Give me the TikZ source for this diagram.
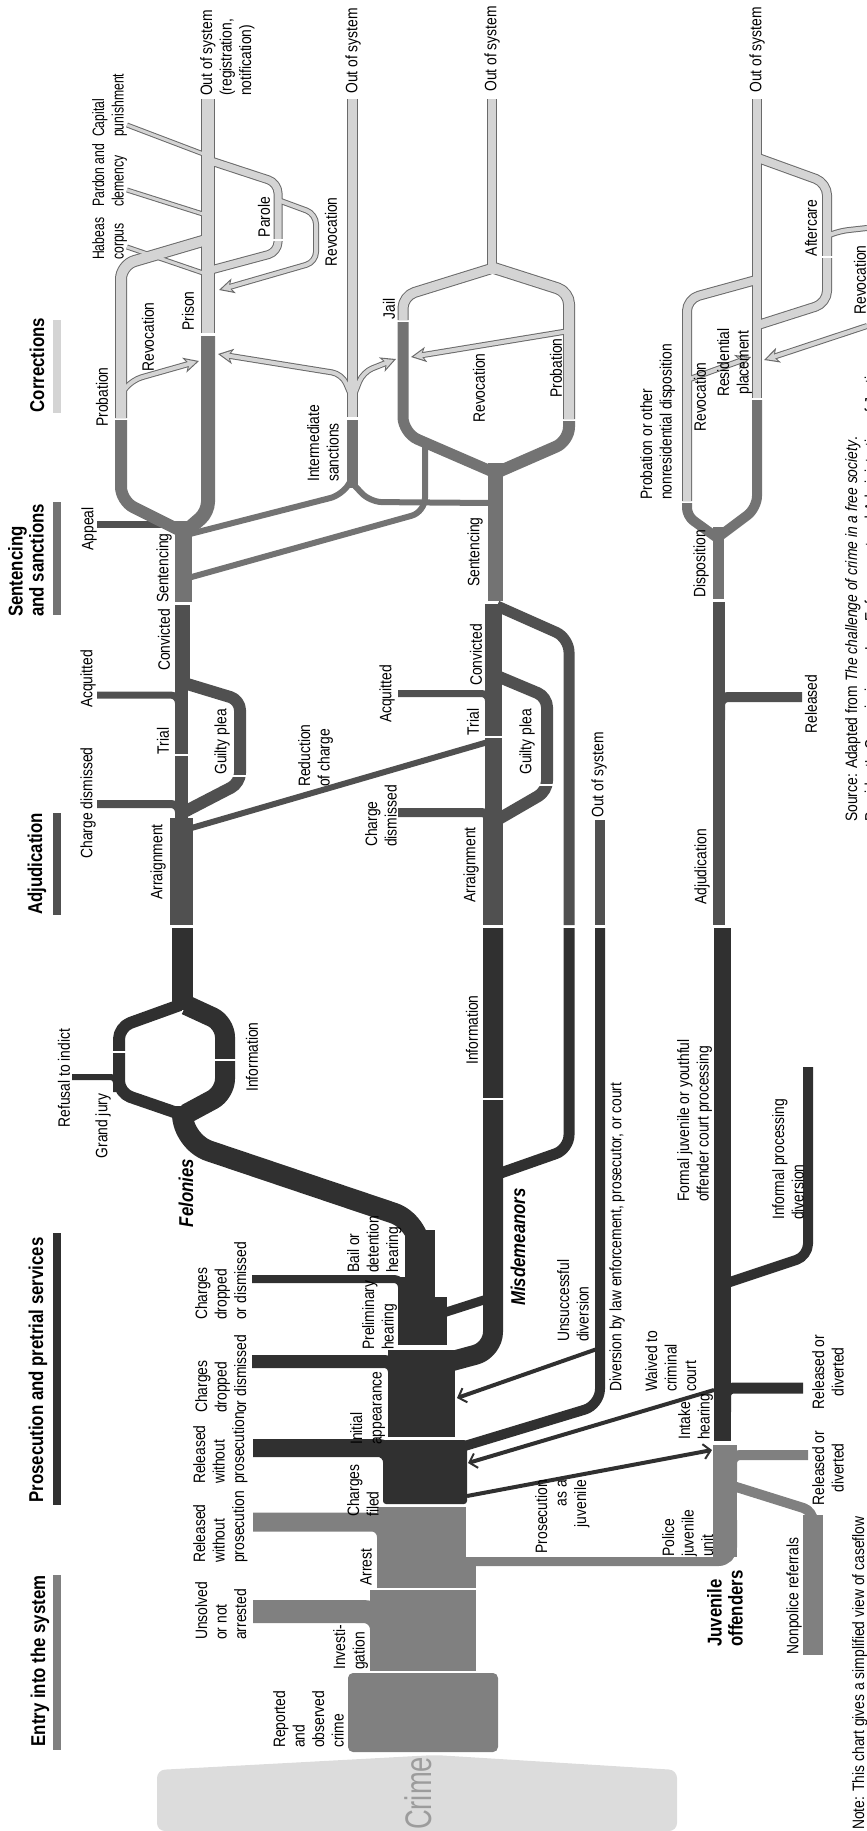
\documentclass[tikz,border=0pt]{standalone}
\usepackage{fontspec}
\setmainfont{Liberation Sans}
\usetikzlibrary{arrows.meta}

\definecolor{crimebg}{HTML}{DCDCDC}
\definecolor{crimetx}{HTML}{9C9C9C}
\definecolor{entry}{HTML}{808080}
\definecolor{prosec}{HTML}{303030}
\definecolor{adjud}{HTML}{505050}
\definecolor{sentc}{HTML}{737373}
\definecolor{ltfill}{HTML}{D4D4D4}
\definecolor{ltedge}{HTML}{6A6A6A}

\newcommand\corrbands{%
  \draw[lt=10pt, rounded corners=14pt] (121,418) -- (121,265) -- (206,240);
  \draw[lt=12pt] (208,333) -- (208,99);
  \draw[lt=7pt, rounded corners=10pt] (211,161) -- (278,183) -- (278,252) -- (211,270);
  \draw[lt=4pt, ltarr, rounded corners=10pt] (278,200) -- (316,214) -- (316,262) -- (219,290);
  \draw[lt=3pt] (127,247) -- (206,274);
  \draw[lt=3pt] (127,190) -- (206,215);
  \draw[lt=3pt] (127,125) -- (206,155);
  \draw[lt=4pt, ltarr, rounded corners=10pt] (121,394) -- (132,380) -- (199,361);
  \draw[lt=9pt] (352.5,417) -- (352.5,99);
  \draw[lt=4pt, ltarr, rounded corners=10pt] (351,395) -- (342,374) -- (218,354);
  \draw[lt=4pt, ltarr, rounded corners=10pt] (354,395) -- (363,372) -- (396,359);
  \draw[lt=9pt, rounded corners=12pt] (403,320) -- (403,296) -- (490,269);
  \draw[lt=8pt] (492,99) -- (492,274);
  \draw[lt=10pt, rounded corners=12pt] (494,268) -- (569,292) -- (569,419);
  \draw[lt=4pt, ltarr] (569,331) -- (411,357);
  \draw[lt=8pt] (757,99) -- (757,398);
  \draw[lt=8pt, rounded corners=12pt] (687,501) -- (687,299) -- (756,280);
  \draw[lt=4pt, ltarr] (687,380) -- (751,357);
  \draw[lt=8pt, rounded corners=12pt] (758,158) -- (827,183) -- (827,303) -- (758,325);
  \draw[lt=4pt, rounded corners=8pt] (827,236) -- (840,231) -- (867,228);
  \draw[lt=4pt, ltarr] (867,326) -- (764,360);
}

\begin{document}
\begin{tikzpicture}[x=1pt, y=-1pt,
    band/.style={line cap=butt, line join=round},
    lbl/.style={rotate=90, xscale=.84, inner sep=0pt, align=left,
                font=\fontsize{16.5}{19.5}\selectfont},
    tight/.style={lbl, xscale=.88},
    head/.style={lbl, font=\fontsize{20}{21}\selectfont\bfseries},
    kind/.style={lbl, font=\fontsize{20}{21}\selectfont\bfseries\itshape},
    darrow/.style={prosec, line width=4pt,
                   -{Straight Barb[length=7pt,width=15pt,line width=2pt]}},
    gap/.style={white, line width=2pt}]
    \useasboundingbox (0,0) rectangle (433.5,915.5);
    \begin{scope}[transform canvas={scale=.5}]
    \clip (0,0) rectangle (867,1831);

    \fill[crimebg, rounded corners=8pt] (157,1831) -- (157,1770) -- (435,1755) -- (677,1770) -- (677,1831) -- cycle;
    \node[lbl, xscale=.88, font=\fontsize{37}{40}\selectfont, text=crimetx, anchor=base west] (crime) at (431,1830) {Crime};

    \fill[entry] (53,1575) rectangle (61,1750);
    \fill[prosec] (53,1233) rectangle (61,1505);
    \fill[adjud] (53,813) rectangle (61,915);
    \fill[sentc] (53,502) rectangle (61,615);
    \fill[ltfill] (53,320) rectangle (61,413);

    \fill[entry, rounded corners=5pt] (348,1673) rectangle (498,1752);
    \fill[entry] (370,1590) rectangle (476,1671);
    \draw[entry, band, line width=23pt, rounded corners=18pt] (381.5,1660) -- (381.5,1611.5) -- (253,1611.5);
    \fill[entry] (377,1507) rectangle (466,1590);
    \fill[entry] (466,1566) rectangle (476,1590);
    \draw[entry, band, line width=19pt, rounded corners=15pt] (386.5,1550) -- (386.5,1522) -- (253,1522);
    \draw[entry, band, line width=9pt, rounded corners=14pt] (462,1561.5) -- (732.5,1561.5) -- (732.5,1520);
    \fill[entry] (713,1445) rectangle (737,1557);
    \draw[entry, band, line width=10pt, rounded corners=8pt] (732,1480) -- (732,1455) -- (808,1455);
    \draw[entry, band, line width=10pt, rounded corners=10pt] (730,1485) -- (813,1511) -- (813,1540);
    \fill[entry] (803,1515) rectangle (823,1655);

    \fill[prosec, rounded corners=3pt] (383,1440) rectangle (467,1504);
    \draw[prosec, band, line width=18pt, rounded corners=14pt] (392,1490) -- (392,1448) -- (253,1448);
    \fill[prosec] (388,1350) rectangle (455,1437);
    \draw[prosec, band, line width=13pt, rounded corners=10pt] (394.5,1400) -- (394.5,1361.5) -- (252,1361.5);
    \fill[prosec] (398,1297) rectangle (447,1345);
    \fill[prosec] (398,1277) rectangle (435,1297);
    \draw[prosec, band, line width=8pt, rounded corners=8pt] (402,1310) -- (402,1279) -- (252,1279);
    \fill[prosec] (405,1230) rectangle (435,1280);
    \draw[prosec, band, line width=21pt, rounded corners=28pt] (420,1270) -- (420,1222) -- (182.5,1142) -- (182.5,1106);
    \draw[prosec, band, line width=20pt, rounded corners=18pt] (445,1363) -- (493,1350) -- (493,928);
    \draw[prosec, band, line width=9pt] (440,1314) -- (490,1298);
    \draw[prosec, band, line width=10pt, rounded corners=16pt] (458,1448) -- (600,1405) -- (600,928);
    \draw[prosec, band, line width=11pt, rounded corners=14pt] (495,1175) -- (569,1149) -- (569,928);
    \fill[prosec] (172,928) rectangle (193,1010);
    \draw[prosec, band, line width=12pt, rounded corners=12pt] (180,1114) -- (119,1093) -- (119,1027) -- (180,1005);
    \draw[prosec, band, line width=20pt, rounded corners=14pt] (186,1114) -- (225,1093) -- (225,1023) -- (186,1005);
    \draw[prosec, band, line width=6pt, rounded corners=5pt] (116,1092) -- (116,1077) -- (72,1077);
    \fill[prosec] (714,928) rectangle (731,1441);
    \draw[prosec, band, line width=11pt, rounded corners=8pt] (725.5,1412) -- (725.5,1388) -- (803,1388);
    \draw[prosec, band, line width=10pt, rounded corners=12pt] (724,1284) -- (808,1256) -- (808,1067);

    \fill[adjud] (170,818) rectangle (193,925);
    \fill[adjud] (175,687) rectangle (188,820);
    \fill[adjud] (175,605) rectangle (190,687);
    \draw[adjud, band, line width=8pt, rounded corners=8pt] (179,830) -- (179,804) -- (97,804);
    \draw[adjud, band, line width=7pt, rounded corners=8pt] (178.5,715) -- (178.5,695) -- (97,695);
    \draw[adjud, band, line width=12pt, rounded corners=10pt] (184,812) -- (240,783) -- (240,700) -- (184,683);
    \draw[adjud, band, line width=6pt] (188,829) -- (488,742);
    \fill[adjud] (483,815) rectangle (503,925);
    \fill[adjud] (485,604) rectangle (502,815);
    \draw[adjud, band, line width=9pt, rounded corners=8pt] (489.5,835) -- (489.5,812.5) -- (398,812.5);
    \draw[adjud, band, line width=7pt, rounded corners=7pt] (488.5,712) -- (488.5,693.5) -- (398,693.5);
    \draw[adjud, band, line width=12pt, rounded corners=10pt] (497,820) -- (547,791) -- (547,697) -- (497,676);
    \draw[adjud, band, line width=11pt, rounded corners=14pt] (569,925) -- (569,638) -- (497,606);
    \fill[adjud] (595,820) rectangle (605,925);
    \fill[adjud] (713,602) rectangle (725,925);
    \draw[adjud, band, line width=10pt, rounded corners=8pt] (720,720) -- (720,697) -- (802,697);
    \draw[adjud, band, line width=7pt] (176,524) -- (97,524);

    \fill[sentc] (175,521) rectangle (192,602);
    \fill[sentc] (488,463) rectangle (503,601);
    \fill[sentc] (713,527) rectangle (724,599);
    \draw[sentc, band, line width=12pt, rounded corners=14pt] (183,532) -- (121,501) -- (121,420);
    \draw[sentc, band, line width=14pt, rounded corners=10pt] (185,532) -- (208,512) -- (208,336);
    \draw[sentc, band, line width=6pt, rounded corners=12pt] (186,535) -- (342,495) -- (352.5,478);
    \draw[sentc, band, line width=6pt, rounded corners=14pt] (188,578) -- (425,512) -- (425,438);
    \draw[sentc, band, line width=6pt, rounded corners=12pt] (491,503) -- (370,502) -- (355,486);
    \fill[sentc] (347,420) rectangle (358,488);
    \draw[sentc, band, line width=11pt, rounded corners=16pt] (493,472) -- (403,433) -- (403,322);
    \draw[sentc, band, line width=12pt, rounded corners=14pt] (498,472) -- (569,441) -- (569,421);
    \draw[sentc, band, line width=10pt, rounded corners=8pt] (716,537) -- (687,516) -- (687,503);
    \draw[sentc, band, line width=10pt, rounded corners=12pt] (721,535) -- (757,508) -- (757,400);

    \begin{scope}[lt/.style={band, draw=ltedge, line width=#1+2pt},
                  ltarr/.style={-{Stealth[length=15pt,width=15pt,inset=4pt]}}]
        \corrbands
    \end{scope}
    \begin{scope}[lt/.style={band, draw=ltfill, line width=#1},
                  ltarr/.style={shorten >=2.5pt, -{Stealth[length=10pt,width=10pt,inset=2.5pt]}}]
        \corrbands
    \end{scope}

    \draw[gap] (368,1589) -- (478,1589);
    \draw[gap] (111,1052) -- (127,1052);
    \draw[gap] (213,1060) -- (237,1060);
    \draw[gap] (481,1099) -- (505,1099);
    \draw[gap] (173,755) -- (190,755);
    \draw[gap] (483,737) -- (504,737);
    \draw[gap] (232,776) -- (248,776);
    \draw[gap] (539,785) -- (555,785);
    \draw[gap] (271,240) -- (285,240);
    \draw[gap] (820,257) -- (834,257);

    \coordinate (dvout) at (597,1349);
    \coordinate (iaback) at (457,1398);
    \coordinate (jvwaive) at (714,1390);
    \coordinate (cfwaive) at (468,1463);
    \coordinate (cfjuv) at (467,1496);
    \coordinate (ihjuv) at (712,1450);
    \draw[darrow] (dvout) -- (iaback);
    \draw[darrow] (jvwaive) -- (cfwaive);
    \draw[darrow] (cfjuv) -- (ihjuv);

    \node[head] (hcorr) at (37,365) {Corrections};
    \node[head, anchor=south west] (hsent) at (44,617) {Sentencing\\and sanctions};
    \node[head] (hadj) at (37,864) {Adjudication};
    \node[head] (hpros) at (38,1370) {Prosecution and pretrial services};
    \node[head] (hentry) at (40,1661) {Entry into the system};
    \node[head, anchor=north west] (hjuv) at (707,1647) {Juvenile\\offenders};
    \node[kind] (fel) at (186,1193) {Felonies};
    \node[kind] (mis) at (518,1247) {Misdemeanors};

    \node[lbl, anchor=north west] (oos1) at (200,96) {Out of system\\(registration,\\notification)};
    \node[lbl] (oos2) at (353,51) {Out of system};
    \node[lbl] (oos3) at (492,49) {Out of system};
    \node[lbl] (oos4) at (757,50) {Out of system};
    \node[lbl] (prison) at (188,311) {Prison};
    \node[lbl] (jail) at (389,309) {Jail};
    \node[lbl] (rev1) at (148,337) {Revocation};
    \node[lbl] (prob1) at (102,397) {Probation};
    \node[lbl] (parole) at (264,217) {Parole};
    \node[lbl] (rev2) at (331,232) {Revocation};
    \node[tight, anchor=north west] (habeas) at (92,260) {Habeas\\corpus};
    \node[tight, anchor=north west] (pardon) at (92,207) {Pardon and\\clemency};
    \node[tight, anchor=north west] (capital) at (92,137) {Capital\\punishment};
    \node[lbl, anchor=north west] (isanc) at (307,482) {Intermediate\\sanctions};
    \node[lbl] (rev3) at (479,388) {Revocation};
    \node[lbl] (prob2) at (556,368) {Probation};
    \node[lbl, anchor=north west] (prob3) at (640,500) {Probation or other\\nonresidential disposition};
    \node[lbl] (rev4) at (700,397) {Revocation};
    \node[lbl, align=center, anchor=north west] (resid) at (717,397) {Residential\\placement};
    \node[lbl] (after) at (811,228) {Aftercare};
    \node[lbl] (rev5) at (860,280) {Revocation};

    \node[lbl] (appeal) at (89,529) {Appeal};
    \node[lbl] (fconv) at (164,640) {Convicted};
    \node[lbl] (fsent) at (164,568) {Sentencing};
    \node[lbl] (facq) at (88,679) {Acquitted};
    \node[lbl] (ftrial) at (163,741) {Trial};
    \node[lbl] (fplea) at (222,742) {Guilty plea};
    \node[lbl] (fdism) at (88,803) {Charge dismissed};
    \node[lbl] (farr) at (158,862) {Arraignment};
    \node[lbl, anchor=north west] (reduc) at (298,787) {Reduction\\of charge};
    \node[lbl] (msent) at (475,552) {Sentencing};
    \node[lbl] (mconv) at (476,655) {Convicted};
    \node[lbl] (mtrial) at (473,722) {Trial};
    \node[lbl] (mplea) at (527,742) {Guilty plea};
    \node[lbl] (macq) at (387,694) {Acquitted};
    \node[lbl, anchor=north west] (mdism) at (365,847) {Charge\\dismissed};
    \node[lbl] (marr) at (471,865) {Arraignment};
    \node[lbl] (doos) at (599,775) {Out of system};
    \node[lbl] (jdisp) at (701,564) {Disposition};
    \node[lbl] (jrel) at (811,704) {Released};
    \node[lbl] (jadj) at (702,867) {Adjudication};

    \node[lbl] (refusal) at (64,1078) {Refusal to indict};
    \node[lbl] (gjury) at (103,1126) {Grand jury};
    \node[lbl] (finfo) at (252,1057) {Information};
    \node[lbl] (minfo) at (472,1030) {Information};
    \node[lbl] (divert) at (617,1237) {Diversion by law enforcement, prosecutor, or court};
    \node[lbl, anchor=north west] (unsucc) at (557,1342) {Unsuccessful\\diversion};
    \node[lbl, anchor=north west] (formal) at (677,1202) {Formal juvenile or youthful\\offender court processing};
    \node[lbl, anchor=north west] (informal) at (772,1220) {Informal processing\\diversion};
    \node[lbl, anchor=north west] (dropA) at (195,1320) {Charges\\dropped\\or dismissed};
    \node[lbl, anchor=north west] (dropB) at (195,1413) {Charges\\dropped\\or dismissed};
    \node[lbl, anchor=north west] (relA) at (193,1484) {Released\\without\\prosecution};
    \node[lbl, anchor=north west] (relB) at (193,1563) {Released\\without\\prosecution};
    \node[lbl, anchor=north west] (unsolved) at (195,1640) {Unsolved\\or not\\arrested};
    \node[lbl, anchor=north west] (bail) at (347,1273) {Bail or\\detention\\hearing};
    \node[lbl, anchor=north west] (prelim) at (362,1350) {Preliminary\\hearing};
    \node[lbl, anchor=north west] (initial) at (350,1445) {Initial\\appearance};
    \node[lbl, anchor=north west] (filed) at (347,1517) {Charges\\filed};
    \node[lbl] (arrest) at (366,1567) {Arrest};
    \node[lbl, anchor=north west] (invest) at (333,1670) {Investi-\\gation};
    \node[lbl, anchor=north west] (reported) at (273,1748) {Reported\\and\\observed\\crime};
    \node[lbl, anchor=north west] (waived) at (645,1392) {Waived to\\criminal\\court};
    \node[lbl, anchor=north west] (intake) at (678,1440) {Intake\\hearing};
    \node[lbl, anchor=north west] (police) at (662,1557) {Police\\juvenile\\unit};
    \node[lbl, align=right, anchor=north east] (asjuv) at (535,1480) {Prosecution\\as a\\juvenile};
    \node[lbl, align=center] (relC) at (828,1372) {Released or\\diverted};
    \node[lbl, align=center] (relD) at (828,1468) {Released or\\diverted};
    \node[lbl] (nonpol) at (794,1596) {Nonpolice referrals};
    \node[lbl, anchor=north west] (source) at (845,822) {Source: Adapted from \textit{The challenge of crime in a free society}.\\President's Commission on Law Enforcement and Administration of Justice};
    \node[lbl, anchor=north west] (note) at (852,1830) {Note: This chart gives a simplified view of caseflow};
    \end{scope}
\end{tikzpicture}
\end{document}
